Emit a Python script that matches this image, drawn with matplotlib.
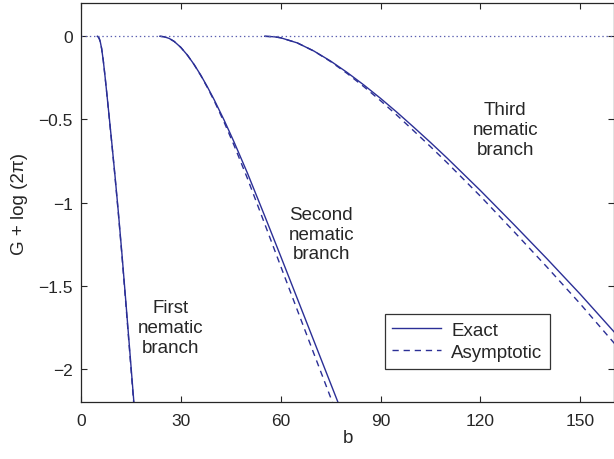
import matplotlib
matplotlib.use("Agg")
import matplotlib.pyplot as plt

# ---------------- data ----------------
# First nematic branch
b1 = [4.9, 5.2, 5.5, 5.8, 6.2, 6.7, 7.2, 7.8, 8.5, 9.3, 10.2, 11.2, 12.3, 13.5, 14.8, 16.2]
g1_exact = [0.0, -0.004, -0.015, -0.034, -0.074, -0.147, -0.237, -0.352, -0.490, -0.650,
            -0.835, -1.052, -1.308, -1.602, -1.927, -2.277]
g1_asym = [0.0, -0.004, -0.015, -0.034, -0.074, -0.147, -0.237, -0.353, -0.493, -0.654,
           -0.841, -1.060, -1.318, -1.615, -1.943, -2.297]

# Second nematic branch
b2 = [23.7, 25.0, 26.5, 28.0, 30.0, 32.0, 34.0, 36.0, 38.0, 40.0, 43.0, 46.0, 50.0,
      55.0, 60.0, 65.0, 70.0, 75.0, 78.0]
g2_exact = [0.0, -0.003, -0.013, -0.031, -0.067, -0.114, -0.170, -0.234, -0.305, -0.381,
            -0.504, -0.636, -0.822, -1.070, -1.322, -1.577, -1.832, -2.087, -2.240]
g2_asym = [0.0, -0.003, -0.013, -0.031, -0.067, -0.114, -0.171, -0.236, -0.309, -0.387,
           -0.516, -0.656, -0.854, -1.117, -1.382, -1.646, -1.909, -2.171, -2.327]

# Third nematic branch
b3 = [55.2, 58.0, 60.0, 65.0, 70.0, 75.0, 80.0, 85.0, 90.0, 95.0, 100.0, 105.0, 110.0,
      120.0, 130.0, 140.0, 150.0, 161.0]
g3_exact = [0.0, -0.003, -0.009, -0.040, -0.089, -0.149, -0.218, -0.293, -0.373, -0.458,
            -0.547, -0.638, -0.732, -0.927, -1.130, -1.337, -1.550, -1.795]
g3_asym = [0.0, -0.003, -0.009, -0.040, -0.089, -0.152, -0.224, -0.303, -0.387, -0.476,
           -0.569, -0.663, -0.760, -0.961, -1.172, -1.387, -1.608, -1.863]

xticks = [0, 30, 60, 90, 120, 150]
yticks = [0, -0.5, -1, -1.5, -2]
ytick_labels = ["0", "\u22120.5", "\u22121", "\u22121.5", "\u22122"]

labels = ["First\nnematic\nbranch", "Second\nnematic\nbranch", "Third\nnematic\nbranch"]
label_pos = [(26.9, -1.75), (72.2, -1.19), (127.5, -0.56)]

# ---------------- style ----------------
plt.rcParams['font.family'] = ['Liberation Sans', 'DejaVu Sans']
plt.rcParams['lines.scale_dashes'] = False
line_color = '#2b2f96'
text_color = '#262626'

fig = plt.figure(figsize=(6.14, 4.60), dpi=100)
ax = fig.add_axes([81/614, 1 - 403.3/460, 532.5/614, (403.3 - 4)/460])

dash = (0, (4.5, 3.5))
lw = 1.0
branches = [(b1, g1_exact, g1_asym), (b2, g2_exact, g2_asym), (b3, g3_exact, g3_asym)]
for i, (b, ge, ga) in enumerate(branches):
    ax.plot(b, ge, color=line_color, lw=lw, label='Exact' if i == 0 else None)
    ax.plot(b, ga, color=line_color, lw=lw, linestyle=dash, label='Asymptotic' if i == 0 else None)

ax.axhline(0, color='#5a5fb0', lw=0.9, linestyle=(0, (1, 2)))

for txt, (x, y) in zip(labels, label_pos):
    ax.text(x, y, txt, ha='center', va='center', fontsize=13.5, color=text_color, linespacing=1.2)

ax.set_xlim(0, 160)
ax.set_ylim(-2.2, 0.2)
ax.set_xticks(xticks)
ax.set_xticklabels([str(t) for t in xticks])
ax.set_yticks(yticks)
ax.set_yticklabels(ytick_labels)
ax.tick_params(direction='in', length=4, width=0.8, top=True, right=True,
               labelsize=12.5, labelcolor=text_color, color='#262626')
ax.tick_params(axis='x', pad=8)
ax.tick_params(axis='y', pad=6)
for s in ax.spines.values():
    s.set_linewidth(0.9)
    s.set_color('#262626')

ax.set_xlabel('b', fontsize=13.5, color=text_color)
ax.xaxis.set_label_coords(0.501, -0.066)
ax.set_ylabel('G + log (2\u03c0)', fontsize=13.5, color=text_color)
ax.yaxis.set_label_coords(-0.1, 0.5)

leg = ax.legend(loc='upper left', bbox_to_anchor=(0.570, 0.221), borderaxespad=0,
                fontsize=13.5, frameon=True, fancybox=False, edgecolor='#000000',
                handlelength=2.6, handletextpad=0.55, labelspacing=0.28, borderpad=0.4)
leg.get_frame().set_linewidth(0.9)
for t in leg.get_texts():
    t.set_color(text_color)

fig.savefig('out.png', dpi=100)
